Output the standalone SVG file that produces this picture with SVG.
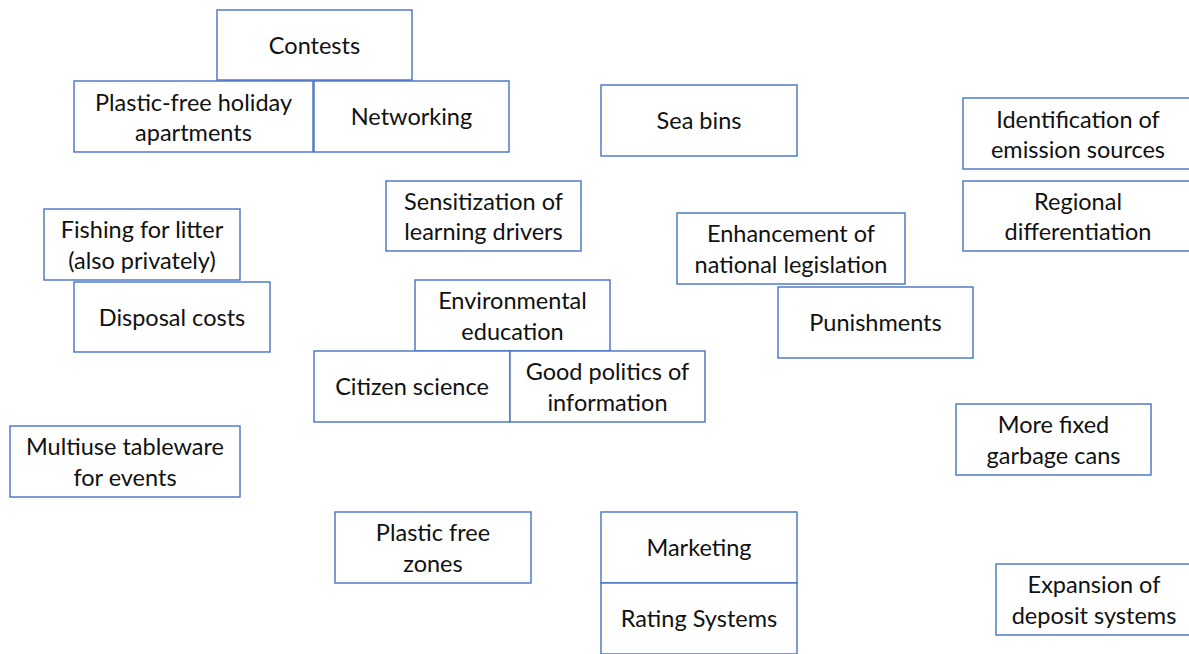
<svg xmlns="http://www.w3.org/2000/svg" width="1189" height="654" viewBox="0 0 1189 654">
  <style>
    .box { fill: #ffffff; stroke: #4472c4; stroke-width: 1.4; }
    .lbl { font-family: Lato, "Liberation Sans", sans-serif; font-size: 23.5px; fill: #111111; text-anchor: middle; }
  </style>
  <rect x="0" y="0" width="1189" height="654" fill="#ffffff"/>

  <g id="contests">
    <rect class="box" x="217" y="10" width="195" height="70"/>
    <text class="lbl" x="314.5" y="54">Contests</text>
  </g>
  <g id="plastic-free-apartments">
    <rect class="box" x="74" y="81" width="239" height="71"/>
    <text class="lbl" x="193.5" y="111">Plastic-free holiday</text>
    <text class="lbl" x="193.5" y="141">apartments</text>
  </g>
  <g id="networking">
    <rect class="box" x="314" y="81" width="195" height="71"/>
    <text class="lbl" x="411.5" y="125">Networking</text>
  </g>
  <g id="sea-bins">
    <rect class="box" x="601" y="85" width="196" height="71"/>
    <text class="lbl" x="699" y="129">Sea bins</text>
  </g>
  <g id="emission-sources">
    <rect class="box" x="963" y="98" width="230" height="71"/>
    <text class="lbl" x="1078" y="128">Identification of</text>
    <text class="lbl" x="1078" y="158">emission sources</text>
  </g>
  <g id="regional-differentiation">
    <rect class="box" x="963" y="181" width="230" height="70"/>
    <text class="lbl" x="1078" y="210">Regional</text>
    <text class="lbl" x="1078" y="240">differentiation</text>
  </g>
  <g id="sensitization">
    <rect class="box" x="386" y="181" width="195" height="70"/>
    <text class="lbl" x="483.5" y="210">Sensitization of</text>
    <text class="lbl" x="483.5" y="240">learning drivers</text>
  </g>
  <g id="fishing-for-litter">
    <rect class="box" x="44" y="209" width="196" height="71"/>
    <text class="lbl" x="142" y="238">Fishing for litter</text>
    <text class="lbl" x="142" y="269">(also privately)</text>
  </g>
  <g id="national-legislation">
    <rect class="box" x="677" y="213" width="228" height="71"/>
    <text class="lbl" x="791" y="242">Enhancement of</text>
    <text class="lbl" x="791" y="273">national legislation</text>
  </g>
  <g id="disposal-costs">
    <rect class="box" x="74" y="282" width="196" height="70"/>
    <text class="lbl" x="172" y="326">Disposal costs</text>
  </g>
  <g id="environmental-education">
    <rect class="box" x="415" y="280" width="195" height="71"/>
    <text class="lbl" x="512.5" y="309">Environmental</text>
    <text class="lbl" x="512.5" y="340">education</text>
  </g>
  <g id="punishments">
    <rect class="box" x="778" y="287" width="195" height="71"/>
    <text class="lbl" x="875.5" y="331">Punishments</text>
  </g>
  <g id="citizen-science">
    <rect class="box" x="314" y="351" width="196" height="71"/>
    <text class="lbl" x="412" y="395">Citizen science</text>
  </g>
  <g id="politics-of-information">
    <rect class="box" x="510" y="351" width="195" height="71"/>
    <text class="lbl" x="607.5" y="380">Good politics of</text>
    <text class="lbl" x="607.5" y="411">information</text>
  </g>
  <g id="multiuse-tableware">
    <rect class="box" x="10" y="426" width="230" height="71"/>
    <text class="lbl" x="125" y="455">Multiuse tableware</text>
    <text class="lbl" x="125" y="486">for events</text>
  </g>
  <g id="fixed-garbage-cans">
    <rect class="box" x="956" y="404" width="195" height="71"/>
    <text class="lbl" x="1053.5" y="433">More fixed</text>
    <text class="lbl" x="1053.5" y="464">garbage cans</text>
  </g>
  <g id="plastic-free-zones">
    <rect class="box" x="335" y="512" width="196" height="71"/>
    <text class="lbl" x="433" y="541">Plastic free</text>
    <text class="lbl" x="433" y="572">zones</text>
  </g>
  <g id="marketing">
    <rect class="box" x="601" y="512" width="196" height="71"/>
    <text class="lbl" x="699" y="556">Marketing</text>
  </g>
  <g id="rating-systems">
    <rect class="box" x="601" y="583" width="196" height="71"/>
    <text class="lbl" x="699" y="627">Rating Systems</text>
  </g>
  <g id="deposit-systems">
    <rect class="box" x="996" y="564" width="196" height="71"/>
    <text class="lbl" x="1094" y="593">Expansion of</text>
    <text class="lbl" x="1094" y="624">deposit systems</text>
  </g>
</svg>
